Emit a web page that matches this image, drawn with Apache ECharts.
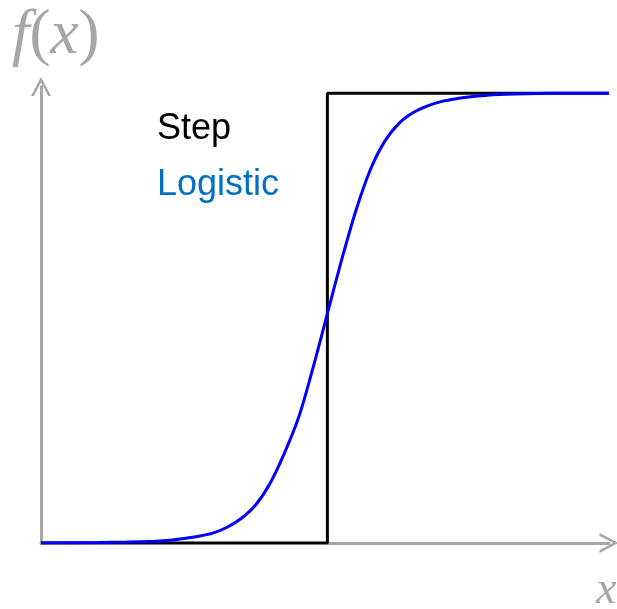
<!DOCTYPE html>
<html>
<head>
<meta charset="utf-8">
<script src="https://cdn.jsdelivr.net/npm/echarts@6/dist/echarts.min.js"></script>
<style>
  html, body { margin: 0; padding: 0; background: #fff; }
  #chart { width: 617px; height: 609px; }
</style>
</head>
<body>
<div id="chart"></div>
<script>
  // step function: 0 left of x=0, 1 right of it
  const stepX = [-6, 0, 0, 5.9];
  const stepY = [0, 0, 1, 1];

  // logistic curve, values
  const logX = [-6, -4.8, -4.2, -3.6, -3.3, -3, -2.7, -2.4, -2.1, -1.8, -1.5, -1.2, -0.9, -0.6, -0.3, 0,
    0.3, 0.6, 0.9, 1.2, 1.5, 1.8, 2.1, 2.4, 2.7, 3, 3.3, 3.6, 4.2, 4.8, 5.9];
  const logY = [0, 0.001, 0.002, 0.004, 0.006, 0.01, 0.015, 0.022, 0.035, 0.055, 0.085, 0.133, 0.2, 0.28, 0.39, 0.51,
    0.63, 0.74, 0.83, 0.893, 0.933, 0.957, 0.972, 0.982, 0.988, 0.992, 0.995, 0.997, 0.999, 1, 1];

  const legendNames = ['Step', 'Logistic'];
  const lineColors = ['#000000', '#0000ff'];
  const legendColors = ['#000000', '#0070c0'];

  const axisGray = '#a6a6a6';
  const chevron = 'path://M0,19 L10,0 L20,19 L17.2,19 L10,5.3 L2.8,19 Z';
  const serif = 'Liberation Serif, Times New Roman, serif';

  const chart = echarts.init(document.getElementById('chart'));
  chart.setOption({
    animation: false,
    backgroundColor: '#ffffff',
    grid: {
      left: 41,
      right: 8,
      top: 86.5,
      bottom: 66,
    },
    legend: {
      orient: 'vertical',
      left: 147,
      top: 106,
      itemWidth: 0,
      itemHeight: 0,
      itemGap: 20,
      selectedMode: false,
      textStyle: {
        fontFamily: 'Liberation Sans, Arial, sans-serif',
        fontSize: 36,
        lineHeight: 36,
      },
      data: legendNames.map((n, i) => ({
        name: n,
        icon: 'rect',
        textStyle: {color: legendColors[i]},
      })),
    },
    xAxis: {
      type: 'value',
      min: -6,
      max: 5.9,
      axisLine: {
        show: true,
        onZero: false,
        symbol: ['none', chevron],
        symbolSize: [20, 19],
        lineStyle: {color: axisGray, width: 3},
      },
      axisTick: {show: false},
      axisLabel: {show: false},
      splitLine: {show: false},
    },
    yAxis: {
      type: 'value',
      min: 0,
      max: 1.015,
      axisLine: {
        show: true,
        onZero: false,
        symbol: ['none', chevron],
        symbolSize: [20, 19],
        lineStyle: {color: axisGray, width: 3},
      },
      axisTick: {show: false},
      axisLabel: {show: false},
      splitLine: {show: false},
    },
    graphic: [
      {
        type: 'text',
        left: 12,
        top: 5,
        style: {
          text: '{i|f}{r|(}{i|x}{r|)}',
          fill: axisGray,
          rich: {
            i: {fontFamily: serif, fontStyle: 'italic', fontSize: 63, fill: axisGray},
            r: {fontFamily: serif, fontSize: 63, fill: axisGray},
          },
        },
      },
      {
        type: 'text',
        left: 596,
        top: 568,
        style: {
          text: 'x',
          fill: axisGray,
          font: 'italic 46px "Liberation Serif", "Times New Roman", serif',
        },
      },
    ],
    series: [
      {
        name: legendNames[0],
        type: 'line',
        showSymbol: false,
        symbol: 'none',
        lineStyle: {color: lineColors[0], width: 3},
        itemStyle: {color: lineColors[0]},
        data: stepX.map((x, i) => [x, stepY[i]]),
      },
      {
        name: legendNames[1],
        type: 'line',
        smooth: 0.3,
        showSymbol: false,
        symbol: 'none',
        lineStyle: {color: lineColors[1], width: 3},
        itemStyle: {color: lineColors[1]},
        data: logX.map((x, i) => [x, logY[i]]),
      },
    ],
  });
</script>
</body>
</html>
